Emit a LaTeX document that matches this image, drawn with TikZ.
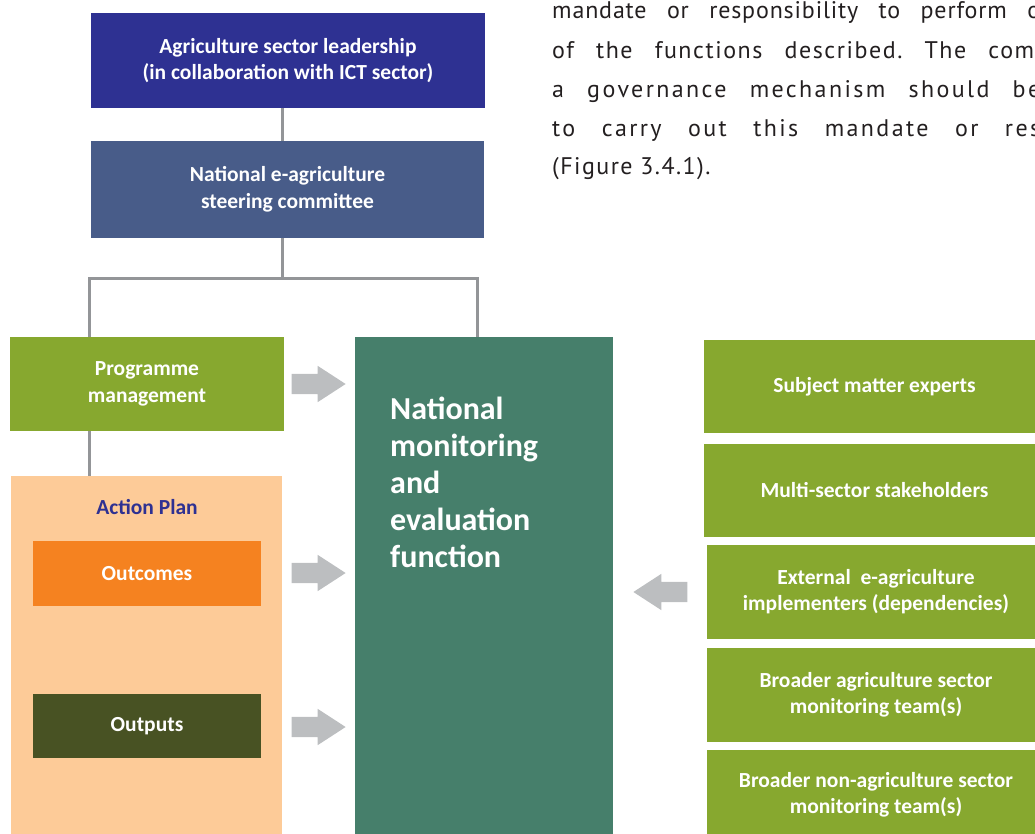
\documentclass[tikz,border=0pt]{standalone}
\usepackage{fontspec}
\setmainfont{Carlito}
\newfontfamily\bodyfont{PT Sans}
\usetikzlibrary{shapes.arrows}

\definecolor{leadblue}{HTML}{2E3192}
\definecolor{steerblue}{HTML}{485C89}
\definecolor{leafgreen}{HTML}{87A82F}
\definecolor{mandegreen}{HTML}{467F6B}
\definecolor{peach}{HTML}{FDCB98}
\definecolor{outorange}{HTML}{F58220}
\definecolor{olivebox}{HTML}{485223}
\definecolor{arrowgray}{HTML}{BCBEC0}
\definecolor{linegray}{HTML}{939598}
\definecolor{bodytext}{HTML}{231F20}

\tikzset{
    box/.style={rectangle, inner sep=0pt, align=center, text=white,
        font=\fontsize{21.5}{26.5}\selectfont\bfseries},
    fatarrow/.style={single arrow, fill=arrowgray, inner sep=10pt,
        minimum height=54pt, single arrow head extend=8pt,
        single arrow tip angle=66, anchor=tip},
    conn/.style={draw=linegray, line width=3pt},
    bodyline/.style={anchor=base west, inner sep=0pt, text=bodytext,
        font=\bodyfont\fontsize{24}{38}\selectfont\frenchspacing},
}

\begin{document}
\begin{tikzpicture}[x=1pt, y=-1pt]
            \useasboundingbox (0, 0) rectangle (1035, 834);
            \clip (0, 0) rectangle (1035, 834);

            \node[bodyline] (txta) at (552, 19) {\addfontfeature{LetterSpace=3.5}\makebox[488pt][s]{mandate or responsibility to perform o}};
            \node[bodyline] (txtb) at (552, 59) {\addfontfeature{LetterSpace=6.5}\makebox[482pt][s]{of the functions described. The com}};
            \node[bodyline] (txtc) at (552, 98) {\addfontfeature{LetterSpace=10}\makebox[488pt][s]{a governance mechanism should be}};
            \node[bodyline] (txtd) at (552, 137) {\addfontfeature{LetterSpace=10}\makebox[488pt][s]{to carry out this mandate or res}};
            \node[bodyline] (txte) at (552, 175) {\addfontfeature{LetterSpace=6}(Figure 3.4.1).};

            \node[box, fill=leadblue, minimum width=394pt, minimum height=95pt] (lead) at (288, 60.5)
                {Agriculture sector leadership\\(in collaboration with ICT sector)};
            \node[box, fill=steerblue, minimum width=393pt, minimum height=97pt] (steer) at (287.5, 189.5)
                {National e-agriculture\\steering committee};
            \node[box, fill=leafgreen, minimum width=274pt, minimum height=94pt] (prog) at (147, 384)
                {Programme\\management};
            \node[box, fill=mandegreen, minimum width=258pt, minimum height=503pt] (nme) at (484, 588.5) {};
            \node[box, anchor=north west, align=left, font=\fontsize{32}{37}\selectfont\bfseries] (nmetext) at (390, 397)
                {National\\monitoring\\and\\evaluation\\function};

            \node[box, fill=peach, minimum width=271pt, minimum height=364pt] (plan) at (146.5, 658) {};
            \node[box, text=leadblue] (plantitle) at (147, 507) {Action Plan};
            \node[box, fill=outorange, minimum width=228pt, minimum height=65pt] (outc) at (147, 573.5) {Outcomes};
            \node[box, fill=olivebox, minimum width=228pt, minimum height=64pt] (outp) at (147, 726) {Outputs};

            \node[box, fill=leafgreen, minimum width=341pt, minimum height=93pt] (sme) at (874.5, 386.5)
                {Subject matter experts};
            \node[box, fill=leafgreen, minimum width=341pt, minimum height=93pt] (msh) at (874.5, 490)
                {Multi-sector stakeholders};
            \node[box, fill=leafgreen, minimum width=338pt, minimum height=94pt] (ext) at (876, 591.5)
                {External\ \ e-agriculture\\implementers (dependencies)};
            \node[box, fill=leafgreen, minimum width=338pt, minimum height=94pt] (bag) at (876, 695)
                {Broader agriculture sector\\monitoring team(s)};
            \node[box, fill=leafgreen, minimum width=338pt, minimum height=90pt] (bnag) at (876, 795)
                {Broader non-agriculture sector\\monitoring team(s)};

            \coordinate (fork) at (282, 278);
            \coordinate (forkl) at (89, 278);
            \coordinate (forkr) at (477, 278);
            \draw[conn] (lead.south -| fork) -- (steer.north -| fork);
            \draw[conn] (steer.south -| fork) -- (fork);
            \draw[conn] (prog.north -| forkl) -- (forkl) -- (forkr) -- (nme.north -| forkr);
            \draw[conn] (prog.south -| forkl) -- (plan.north -| forkl);

            \node[fatarrow] (arra) at (346, 384) {};
            \node[fatarrow] (arrb) at (346, 573) {};
            \node[fatarrow] (arrc) at (346, 727) {};
            \node[fatarrow, shape border rotate=180] (arrd) at (633, 592) {};
        \end{tikzpicture}
\end{document}
